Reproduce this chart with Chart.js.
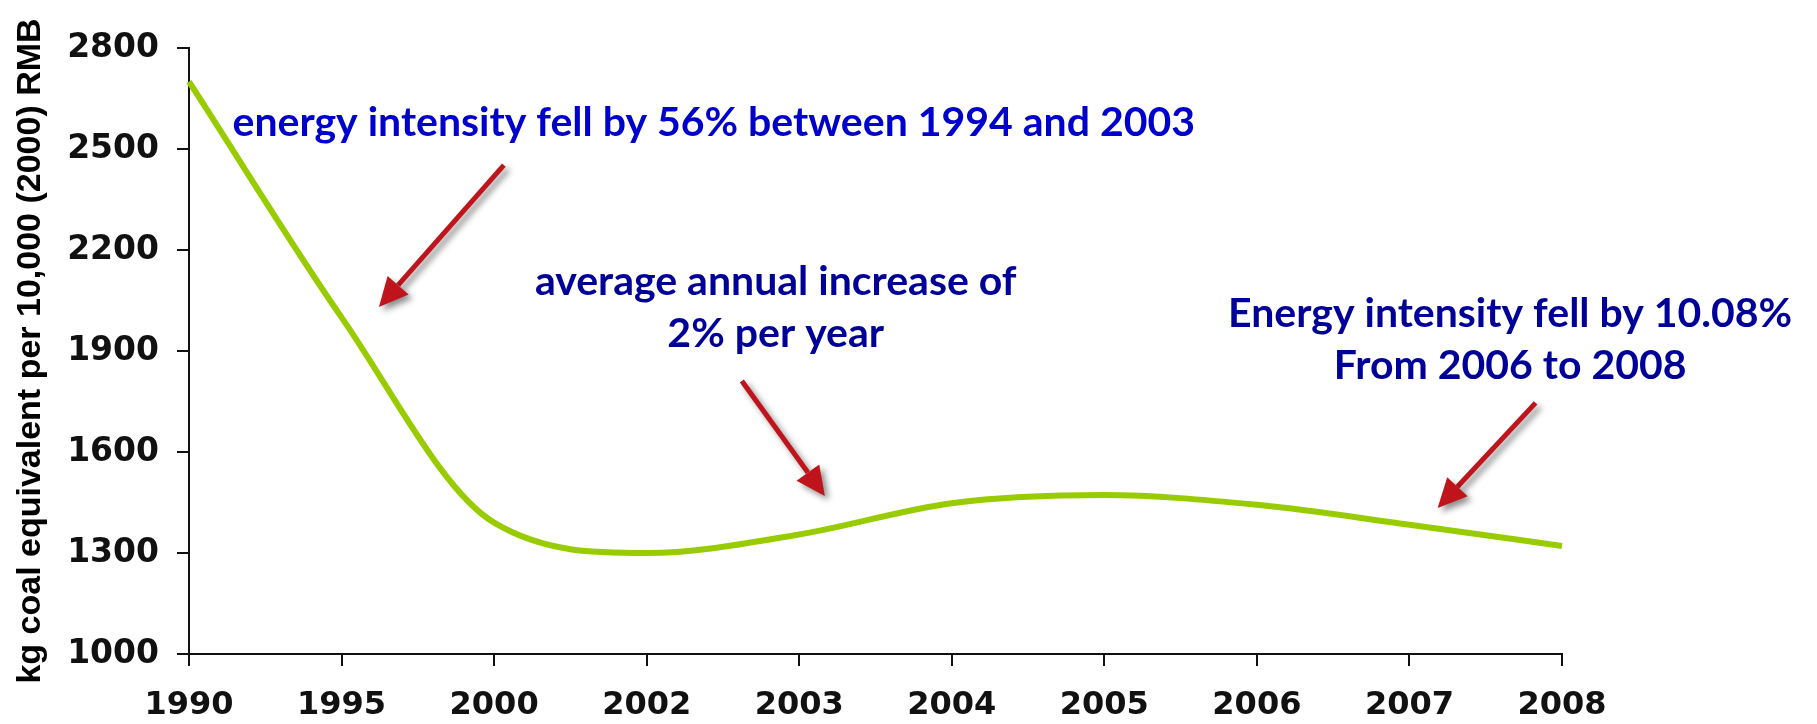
<!DOCTYPE html>
<html>
<head>
<meta charset="utf-8">
<script src="https://cdn.jsdelivr.net/npm/chart.js@4.4.1/dist/chart.umd.min.js"></script>
<style>
  html, body { margin: 0; padding: 0; background: #fff; }
  #wrap { width: 1817px; height: 724px; position: relative; }
</style>
</head>
<body>
<div id="wrap"><canvas id="grafico"></canvas></div>
<script>
// datos
const years = ['1990', '1995', '2000', '2002', '2003', '2004', '2005', '2006', '2007', '2008'];
const intensity = [2700, 2000, 1390, 1300, 1355, 1448, 1472, 1443, 1384, 1321];
const yMin = 1000;
const yMax = 2800;
const yStep = 300;
const yTitle = 'kg coal equivalent per 10,000 (2000) RMB';

const noteLines = [
  ['energy intensity fell by 56% between 1994 and 2003'],
  ['average annual increase of', '2% per year'],
  ['Energy intensity fell by 10.08%', 'From 2006 to 2008']
];

// anotaciones (en coordenadas de datos: indice de categoria, valor)
const notes = [
  { at: [3.44, 2539], color: '#0000cc' },
  { at: [3.846, 2066], color: '#000099' },
  { at: [8.66, 1971], color: '#000099' }
];
const arrows = [
  { from: [2.064, 2452], to: [1.245, 2031] },
  { from: [3.624, 1811], to: [4.168, 1469] },
  { from: [8.827, 1746], to: [8.185, 1434] }
];

function drawArrow(ctx, x1, y1, x2, y2) {
  const ang = Math.atan2(y2 - y1, x2 - x1);
  const headLen = 29, headHalf = 14;
  const bx = x2 - Math.cos(ang) * headLen;
  const by = y2 - Math.sin(ang) * headLen;
  ctx.save();
  ctx.shadowColor = 'rgba(0,0,0,0.45)';
  ctx.shadowBlur = 6;
  ctx.shadowOffsetX = 4;
  ctx.shadowOffsetY = 4;
  ctx.strokeStyle = '#c0141c';
  ctx.fillStyle = '#c0141c';
  ctx.lineWidth = 5;
  ctx.beginPath();
  ctx.moveTo(x1, y1);
  ctx.lineTo(bx, by);
  ctx.stroke();
  ctx.beginPath();
  ctx.moveTo(x2, y2);
  ctx.lineTo(bx + Math.sin(ang) * headHalf, by - Math.cos(ang) * headHalf);
  ctx.lineTo(bx - Math.sin(ang) * headHalf, by + Math.cos(ang) * headHalf);
  ctx.closePath();
  ctx.fill();
  ctx.restore();
}

const notasPlugin = {
  id: 'notas',
  afterDatasetsDraw(chart) {
    const ctx = chart.ctx;
    const xs = chart.scales.x;
    const ys = chart.scales.y;
    arrows.forEach(a => {
      drawArrow(ctx,
        xs.getPixelForValue(a.from[0]), ys.getPixelForValue(a.from[1]),
        xs.getPixelForValue(a.to[0]), ys.getPixelForValue(a.to[1]));
    });
    ctx.save();
    ctx.font = 'bold 41px Lato';
    ctx.textAlign = 'center';
    ctx.textBaseline = 'alphabetic';
    notes.forEach((n, i) => {
      const cx = xs.getPixelForValue(n.at[0]);
      const cy = ys.getPixelForValue(n.at[1]);
      ctx.fillStyle = n.color;
      noteLines[i].forEach((line, j) => {
        ctx.fillText(line, cx, cy + j * 52);
      });
    });
    ctx.restore();
  }
};

const ctx = document.getElementById('grafico').getContext('2d');
new Chart(ctx, {
  type: 'line',
  data: {
    labels: years,
    datasets: [{
      label: 'Energy intensity',
      data: intensity,
      borderColor: '#99cc00',
      borderWidth: 6,
      pointRadius: 0,
      fill: false,
      cubicInterpolationMode: 'monotone'
    }]
  },
  options: {
    responsive: true,
    maintainAspectRatio: false,
    animation: false,
    layout: { padding: { top: 48, right: 255, left: 0, bottom: 0 } },
    plugins: {
      legend: { display: false },
      tooltip: { enabled: false }
    },
    scales: {
      x: {
        offset: false,
        afterFit(scale) { scale.height = 70; },
        border: { color: '#111', width: 2 },
        grid: { drawOnChartArea: false, drawTicks: true, tickLength: 12, color: '#111', lineWidth: 2 },
        ticks: {
          color: '#111',
          padding: 20,
          maxRotation: 0,
          autoSkip: false,
          font: { family: 'DejaVu Sans', weight: 'bold', size: 32 }
        }
      },
      y: {
        min: yMin,
        max: yMax,
        afterFit(scale) { scale.width = 189; },
        border: { color: '#111', width: 2 },
        grid: { drawOnChartArea: false, drawTicks: true, tickLength: 12, color: '#111', lineWidth: 2 },
        ticks: {
          stepSize: yStep,
          color: '#111',
          padding: 18,
          callback: v => String(v),
          font: { family: 'DejaVu Sans', weight: 'bold', size: 33 }
        },
        title: {
          display: true,
          text: yTitle,
          color: '#000',
          padding: { top: 10, bottom: 0 },
          font: { family: 'Liberation Sans', weight: 'bold', size: 34 }
        }
      }
    }
  },
  plugins: [notasPlugin]
});
</script>
</body>
</html>
